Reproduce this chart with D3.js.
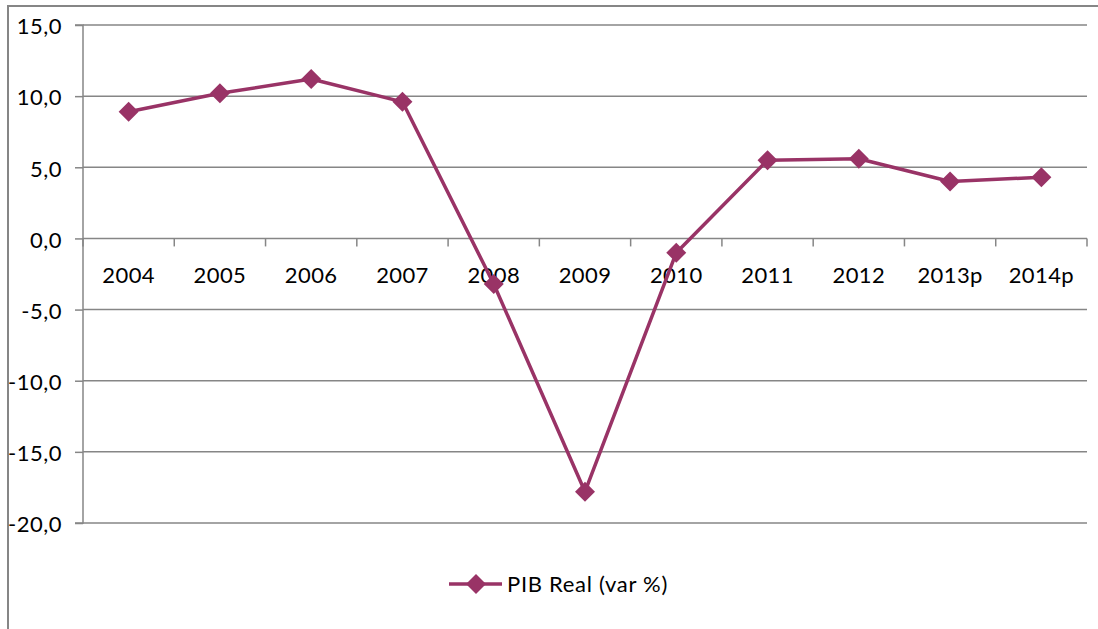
<!DOCTYPE html>
<html><head><meta charset="utf-8">
<script src="https://cdn.jsdelivr.net/npm/d3@7/dist/d3.min.js"></script>
<style>body{margin:0;background:#fff}svg{display:block}</style>
</head><body>
<svg id="c" width="1098" height="629"></svg>
<script>
const categories = ["2004","2005","2006","2007","2008","2009","2010","2011","2012","2013p","2014p"];
const values = [8.9, 10.2, 11.2, 9.6, -3.2, -17.8, -1.0, 5.5, 5.6, 4.0, 4.3];
const yTicks = [15, 10, 5, 0, -5, -10, -15, -20];
const seriesName = "PIB Real (var %)";

const svg = d3.select("#c");
const font = "Lato, 'Open Sans', sans-serif";
const fs = 22;
const gray = "#868686";
const col = "#993366";
const L = 83, R = 1087, T = 25, B = 523;

// outer chart border (clipped)
svg.append("path").attr("d", "M8,640 L8,6 L1110,6").attr("fill","none").attr("stroke", gray).attr("stroke-width", 2);

const x = d3.scaleBand().domain(categories).range([L, R]);
const y = d3.scaleLinear().domain([-20, 15]).range([B, T]);

// gridlines
svg.append("g").selectAll("line").data(yTicks).join("line")
  .attr("x1", L).attr("x2", R).attr("y1", d => y(d)).attr("y2", d => y(d))
  .attr("stroke", gray).attr("stroke-width", 1.5);

// y axis
const yAxis = d3.axisLeft(y).tickValues(yTicks).tickSize(8).tickPadding(13)
  .tickFormat(d => d3.format(".1f")(d).replace(".", ",").replace("−","-"));
const gy = svg.append("g").attr("transform", `translate(${L},0)`).call(yAxis);
gy.select(".domain").attr("stroke", gray).attr("stroke-width", 1.5).attr("d", `M-8,${T}H0V${B}H-8`);
gy.selectAll(".tick line").attr("stroke", gray).attr("stroke-width", 1.5);
gy.selectAll(".tick text").attr("font-family", font).attr("font-size", fs).attr("fill", "#000").attr("dy", "0.4em").attr("letter-spacing", 0.5);

// x axis at zero
const xAxis = d3.axisBottom(x).tickSize(0).tickPadding(29);
const gx = svg.append("g").attr("transform", `translate(0,${y(0)})`).call(xAxis);
gx.select(".domain").remove();
gx.selectAll(".tick text").attr("font-family", font).attr("font-size", fs).attr("fill", "#000").attr("letter-spacing", 0.4);
const bounds = categories.map(c => x(c)).concat([R]);
gx.append("g").selectAll("line").data(bounds).join("line")
  .attr("x1", d => d).attr("x2", d => d).attr("y1", 0).attr("y2", 8)
  .attr("stroke", gray).attr("stroke-width", 1.5);

// line
const cx = c => x(c) + x.bandwidth() / 2;
const data = categories.map((c, i) => ({c, v: values[i]}));
svg.append("path").datum(data)
  .attr("d", d3.line().x(d => cx(d.c)).y(d => y(d.v)))
  .attr("fill", "none").attr("stroke", col).attr("stroke-width", 3.5).attr("stroke-linejoin", "round");

const diamond = d3.symbol().type(d3.symbolSquare).size(200);
svg.append("g").selectAll("path").data(data).join("path")
  .attr("d", diamond)
  .attr("transform", d => `translate(${cx(d.c)},${y(d.v)}) rotate(45)`)
  .attr("fill", col);

// legend
const lg = svg.append("g");
lg.append("line").attr("x1", 449).attr("x2", 502).attr("y1", 584).attr("y2", 584)
  .attr("stroke", col).attr("stroke-width", 3.5);
lg.append("path").attr("d", diamond).attr("transform", "translate(476,584) rotate(45)").attr("fill", col);
lg.append("text").attr("x", 507).attr("y", 584).attr("dy", "0.35em").attr("letter-spacing", 0.7)
  .attr("font-family", font).attr("font-size", fs).attr("fill", "#000").text(seriesName);
</script>
</body></html>
